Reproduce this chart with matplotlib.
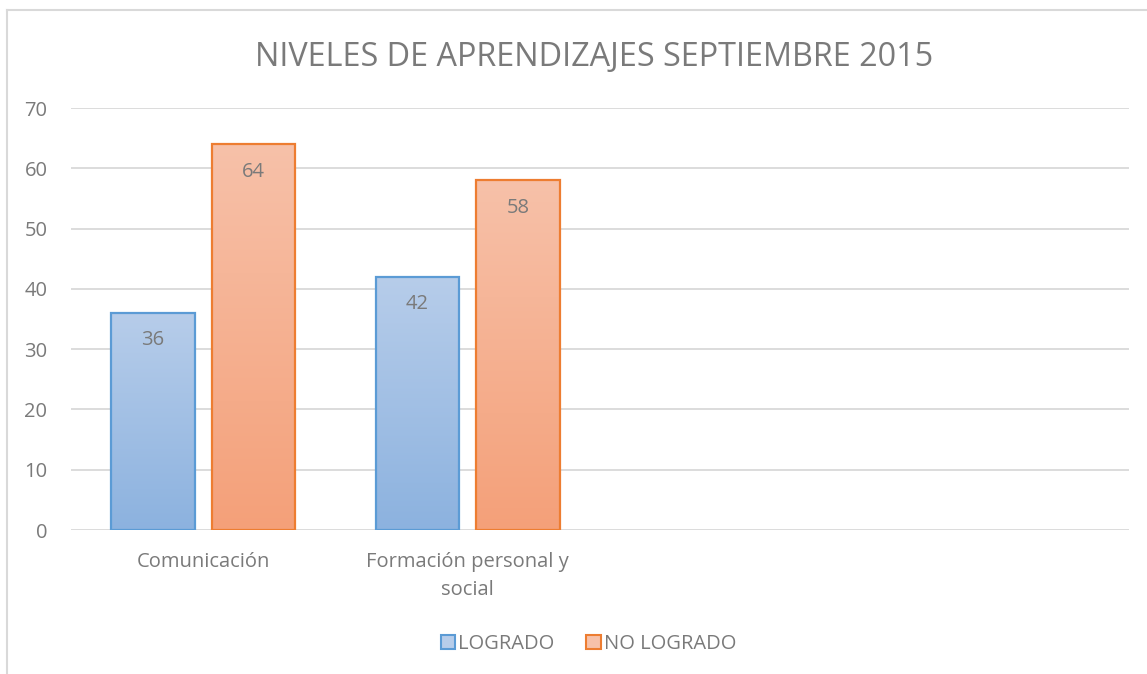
import numpy as np
import matplotlib.pyplot as plt
from matplotlib.colors import LinearSegmentedColormap
from matplotlib.lines import Line2D
from matplotlib.patches import Patch

plt.rcParams['font.family'] = ['Open Sans', 'DejaVu Sans']

categories = ['Comunicación', 'Formación personal y\nsocial', '', '']
logrado = [36, 42]
no_logrado = [64, 58]
series_names = ['LOGRADO', 'NO LOGRADO']
title = 'NIVELES DE APRENDIZAJES SEPTIEMBRE 2015'

text_color = '#7a7a7a'
grid_color = '#d9d9d9'
blue_edge, orange_edge = '#5b9bd5', '#ed7d31'
blue_grad = ('#b7cdea', '#8cb2df')
orange_grad = ('#f7c1a9', '#f4a079')

fig = plt.figure(figsize=(11.47, 6.74), dpi=100)
ax = fig.add_axes([0.0619, 0.2136, 0.9224, 0.6261])

x = np.arange(len(categories))
width = 0.315
offset = 0.19

def gradient_bars(bars, colors, edge):
    cmap = LinearSegmentedColormap.from_list('g', [colors[1], colors[0]])
    for b in bars:
        x0, y0 = b.get_x(), b.get_y()
        w, h = b.get_width(), b.get_height()
        grad = np.linspace(0, 1, 256).reshape(-1, 1)
        im = ax.imshow(grad, cmap=cmap, origin='lower', aspect='auto',
                       extent=[x0, x0 + w, y0, y0 + h], zorder=2)
        im.set_clip_path(b)
        b.set_facecolor('none')
        b.set_edgecolor(edge)
        b.set_linewidth(1.6)
        b.set_zorder(3)

b1 = ax.bar(x[:len(logrado)] - offset, logrado, width)
b2 = ax.bar(x[:len(no_logrado)] + offset, no_logrado, width)
gradient_bars(b1, blue_grad, blue_edge)
gradient_bars(b2, orange_grad, orange_edge)

for bars, vals in ((b1, logrado), (b2, no_logrado)):
    for b, v in zip(bars, vals):
        ax.text(b.get_x() + b.get_width() / 2, v - 2.9, str(v),
                ha='center', va='top', fontsize=14.5, color=text_color, zorder=4)

ax.set_xlim(-0.5, len(categories) - 0.5)
ax.set_ylim(0, 70)
ax.set_yticks(range(0, 71, 10))
ax.set_xticks(x)
ax.set_xticklabels(categories, linespacing=1.5)
ax.tick_params(axis='both', length=0, colors=text_color, labelsize=14.5)
ax.tick_params(axis='y', pad=17)
ax.tick_params(axis='x', pad=16)
ax.yaxis.grid(True, color=grid_color, linewidth=1.3)
ax.set_axisbelow(True)
for s in ax.spines.values():
    s.set_visible(False)

fig.text(0.518, 0.914, title, ha='center', va='center', fontsize=23.3,
         color=text_color)

handles = [Patch(facecolor=blue_grad[0], edgecolor=blue_edge, linewidth=1.5),
           Patch(facecolor=orange_grad[0], edgecolor=orange_edge, linewidth=1.5)]
fig.legend(handles, series_names, loc='center', bbox_to_anchor=(0.513, 0.044),
           ncol=2, frameon=False, fontsize=14.5, labelcolor=text_color,
           handlelength=0.7, handleheight=0.7, handletextpad=0.15,
           columnspacing=1.6)

# chart frame (left and top edges visible)
fig.add_artist(Line2D([0.0065, 0.0065], [0, 0.985], color=grid_color,
                      linewidth=1.5, transform=fig.transFigure))
fig.add_artist(Line2D([0.0065, 1], [0.985, 0.985], color=grid_color,
                      linewidth=1.5, transform=fig.transFigure))

plt.savefig('out.png', dpi=100)
